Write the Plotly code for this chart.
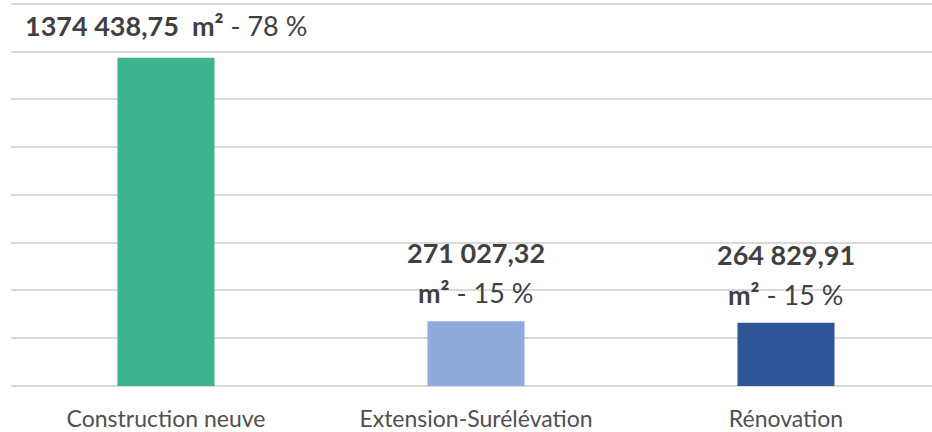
import plotly.graph_objects as go

categories = ["Construction neuve", "Extension-Surélévation", "Rénovation"]
values = [1374438.75, 271027.32, 264829.91]
value_labels = ["1374 438,75", "271 027,32", "264 829,91"]
percents = ["78 %", "15 %", "15 %"]
colors = ["#3DB48F", "#8FAADC", "#2F5597"]

fig = go.Figure(go.Bar(
    x=categories, y=values, marker_color=colors, width=0.313,
    marker_line_width=0,
))

lab_font = dict(family="Lato", size=27, color="#404040")
for i, (c, v, lab, p) in enumerate(zip(categories, values, value_labels, percents)):
    if i == 0:
        fig.add_annotation(x=c, y=v, text=f"<b>{lab}  m²</b> - {p}", showarrow=False,
                           yanchor="bottom", yshift=14, font=lab_font)
    else:
        fig.add_annotation(x=c, y=v, text=f"<b>m²</b> - {p}", showarrow=False,
                           yanchor="bottom", yshift=10, font=lab_font)
        fig.add_annotation(x=c, y=v, text=f"<b>{lab}</b>", showarrow=False,
                           yanchor="bottom", yshift=50, font=lab_font)

fig.update_layout(
    width=932, height=432,
    margin=dict(l=11, r=0, t=0, b=44),
    plot_bgcolor="white", paper_bgcolor="white",
    showlegend=False,
    font=dict(family="Lato", color="#404040"),
    xaxis=dict(range=[-0.5, 2.471], showgrid=False, showline=False, ticks="",
               ticklabelstandoff=17, tickfont=dict(size=23, color="#505050")),
    yaxis=dict(range=[0, 1616667], tickvals=[200000 * k for k in range(9)],
               showticklabels=False, showgrid=True,
               gridcolor="#D9D9D9", gridwidth=1.5, zeroline=True, zerolinecolor="#D9D9D9",
               zerolinewidth=1.5),
)
fig.write_html("out.html", config={"displayModeBar": False},
               post_script="document.body.style.margin='0';")
